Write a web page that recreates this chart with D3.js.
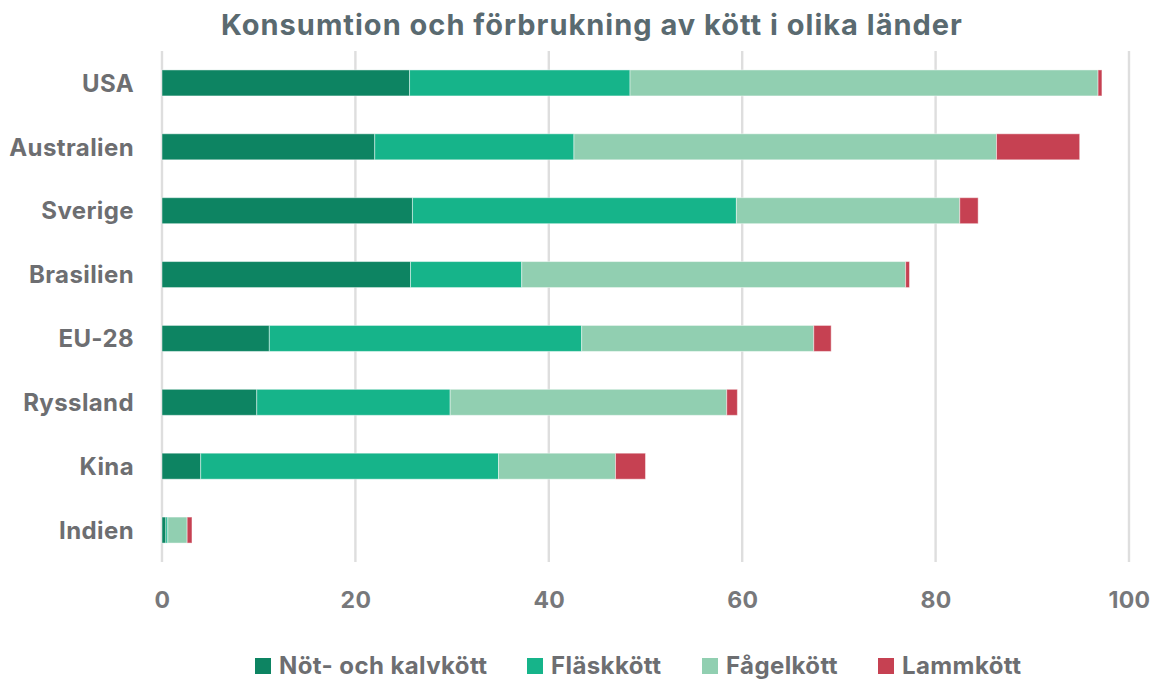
<!DOCTYPE html>
<html>
<head>
<meta charset="utf-8">
<script src="https://cdn.jsdelivr.net/npm/d3@7"></script>
<style>
  body { margin: 0; background: #fff; }
  svg { display: block; font-family: Inter, "Noto Sans", sans-serif; }
</style>
</head>
<body>
<svg id="chart"></svg>
<script>
// data
const countries = ["USA", "Australien", "Sverige", "Brasilien", "EU-28", "Ryssland", "Kina", "Indien"];
const seriesNames = ["Nöt- och kalvkött", "Fläskkött", "Fågelkött", "Lammkött"];
const beef = [25.6, 22.0, 25.9, 25.7, 11.1, 9.8, 4.0, 0.4];
const pork = [22.8, 20.6, 33.5, 11.5, 32.3, 20.0, 30.8, 0.2];
const poultry = [48.4, 43.7, 23.1, 39.7, 24.0, 28.6, 12.1, 2.0];
const lamb = [0.4, 8.6, 1.9, 0.4, 1.8, 1.1, 3.1, 0.5];
const xTicks = [0, 20, 40, 60, 80, 100];

const colors = ["#0d8462", "#16b48a", "#91cfb1", "#c64152"];

const width = 1155, height = 680;
const svg = d3.select("#chart").attr("width", width).attr("height", height);

const rows = countries.map((c, i) => ({
  country: c,
  [seriesNames[0]]: beef[i],
  [seriesNames[1]]: pork[i],
  [seriesNames[2]]: poultry[i],
  [seriesNames[3]]: lamb[i],
}));

const stacked = d3.stack().keys(seriesNames)(rows);

const x = d3.scaleLinear().domain([0, 100]).range([162, 1129]);
const y = d3.scaleBand()
  .domain(countries)
  .range([51, 562])
  .paddingInner(0.593)
  .paddingOuter(0.2965);

// title
svg.append("text")
  .attr("x", 592)
  .attr("y", 35)
  .attr("text-anchor", "middle")
  .attr("font-size", 29)
  .attr("font-weight", 700)
  .attr("letter-spacing", 1)
  .attr("fill", "#5a6a70")
  .text("Konsumtion och förbrukning av kött i olika länder");

// gridlines
svg.append("g")
  .selectAll("line")
  .data(xTicks)
  .join("line")
  .attr("x1", (d) => x(d))
  .attr("x2", (d) => x(d))
  .attr("y1", 51)
  .attr("y2", 562)
  .attr("stroke", "#dedede")
  .attr("stroke-width", 2.4);

// x axis labels
const xAxis = svg.append("g")
  .attr("transform", "translate(0,592)")
  .call(d3.axisBottom(x).tickValues(xTicks).tickSize(0).tickPadding(0));
xAxis.select(".domain").remove();
xAxis.selectAll("text")
  .attr("dy", "0.71em")
  .attr("font-family", "Inter, 'Noto Sans', sans-serif")
  .attr("font-size", 23)
  .attr("font-weight", 700)
  .attr("letter-spacing", 0.3)
  .attr("fill", "#77787b");

// y axis labels
const yAxis = svg.append("g")
  .attr("transform", "translate(134,1)")
  .call(d3.axisLeft(y).tickSize(0).tickPadding(0));
yAxis.select(".domain").remove();
yAxis.selectAll("text")
  .attr("font-family", "Inter, 'Noto Sans', sans-serif")
  .attr("font-size", 24)
  .attr("font-weight", 700)
  .attr("letter-spacing", 0.4)
  .attr("fill", "#6d6e71");

// bars
svg.append("g")
  .selectAll("g")
  .data(stacked)
  .join("g")
  .attr("fill", (d, i) => colors[i])
  .selectAll("rect")
  .data((d) => d)
  .join("rect")
  .attr("x", (d) => x(d[0]))
  .attr("y", (d) => y(d.data.country))
  .attr("width", (d) => x(d[1]) - x(d[0]))
  .attr("height", y.bandwidth())
  .attr("stroke", "rgba(255,255,255,0.45)")
  .attr("stroke-width", 1);

// legend
const legendX = [255, 527, 702, 878];
const legend = svg.append("g")
  .selectAll("g")
  .data(seriesNames)
  .join("g")
  .attr("transform", (d, i) => `translate(${legendX[i]},658)`);
legend.append("rect")
  .attr("width", 16)
  .attr("height", 16)
  .attr("fill", (d, i) => colors[i]);
legend.append("text")
  .attr("x", 24)
  .attr("y", 16)
  .attr("font-size", 24)
  .attr("font-weight", 700)
  .attr("letter-spacing", 0.4)
  .attr("fill", "#6d6e71")
  .text((d) => d);
</script>
</body>
</html>
